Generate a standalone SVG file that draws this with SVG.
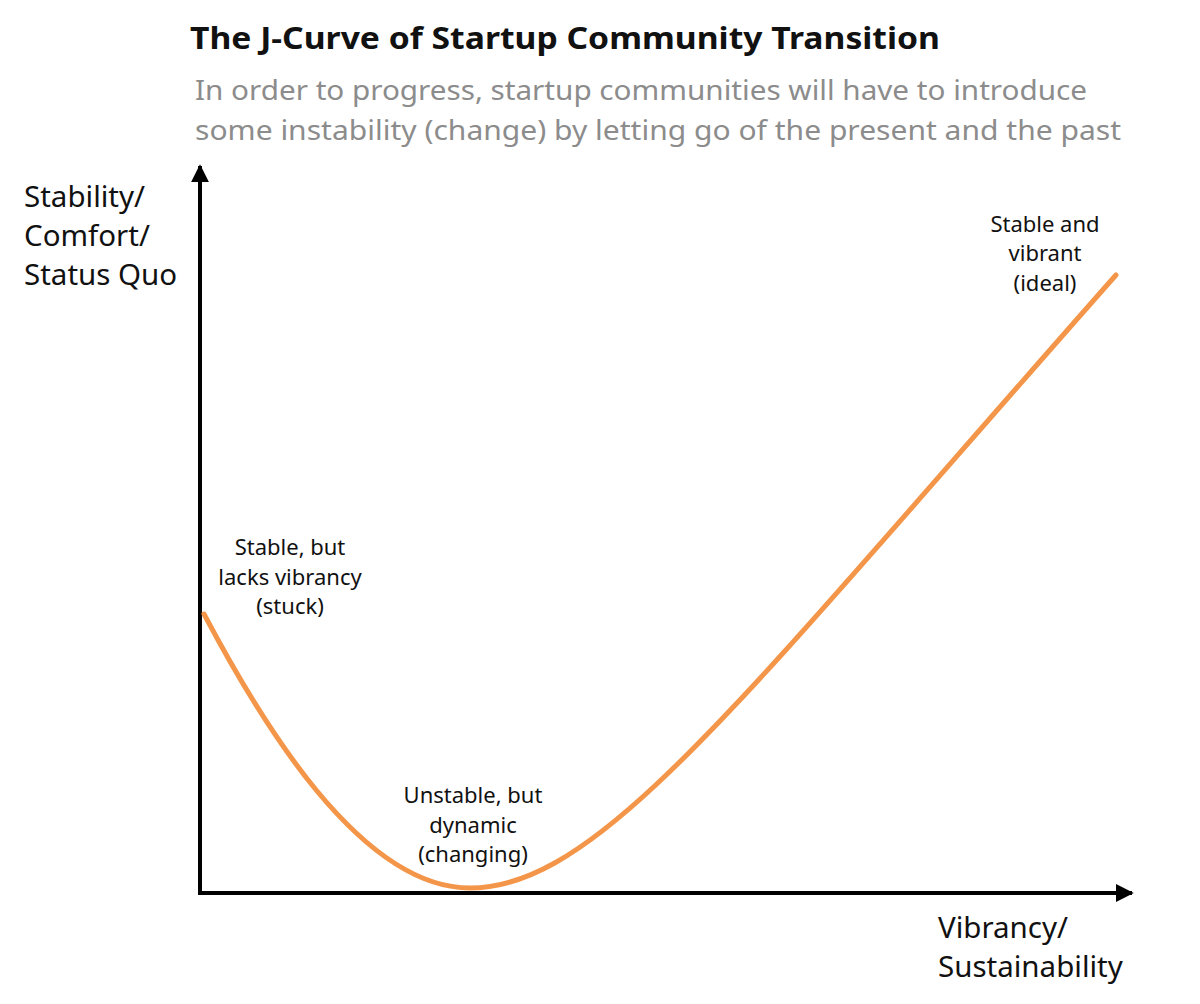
<svg xmlns="http://www.w3.org/2000/svg" width="1200" height="1004" viewBox="0 0 1200 1004">
<defs>
<style>
text{font-family:"Noto Sans","Open Sans","Liberation Sans",sans-serif;fill:#111}
.title{font-size:30px;font-weight:bold}
.sub{font-size:28px;fill:#8c8c8c}
.axis{font-size:29.5px}
.lbl{font-size:22px;text-anchor:middle}
.ax{stroke:#000;stroke-width:4;fill:none}
</style>
<marker id="ah" viewBox="0 0 10 10" refX="9" refY="5" markerWidth="4.5" markerHeight="4.5" orient="auto" markerUnits="strokeWidth">
<path d="M0,0 L10,5 L0,10 z" fill="#000"/>
</marker>
</defs>
<rect width="1200" height="1004" fill="#fff"/>
<g id="header">
<text class="title" x="190" y="49" textLength="750" lengthAdjust="spacingAndGlyphs">The J-Curve of Startup Community Transition</text>
<text class="sub" x="195" y="100" textLength="892" lengthAdjust="spacingAndGlyphs">In order to progress, startup communities will have to introduce</text>
<text class="sub" x="195" y="140" textLength="926" lengthAdjust="spacingAndGlyphs">some instability (change) by letting go of the present and the past</text>
</g>
<g id="connectors">
<line class="ax" x1="200" y1="893" x2="200" y2="166" marker-end="url(#ah)"/>
<line class="ax" x1="198" y1="893" x2="1132" y2="893" marker-end="url(#ah)"/>
<path id="curve" d="M204,614 C260,720 360,888 470,888 C600,888 740,700 1116,275" fill="none" stroke="#F4964A" stroke-width="5" stroke-linecap="round"/>
</g>
<g id="y-axis-label">
<text class="axis" x="24" y="207">Stability/</text>
<text class="axis" x="24" y="246">Comfort/</text>
<text class="axis" x="24" y="285">Status Quo</text>
</g>
<g id="x-axis-label">
<text class="axis" x="938" y="938">Vibrancy/</text>
<text class="axis" x="938" y="977">Sustainability</text>
</g>
<g id="stuck">
<text class="lbl" x="290" y="555">Stable, but</text>
<text class="lbl" x="290" y="585">lacks vibrancy</text>
<text class="lbl" x="290" y="614">(stuck)</text>
</g>
<g id="changing">
<text class="lbl" x="473" y="803">Unstable, but</text>
<text class="lbl" x="473" y="833">dynamic</text>
<text class="lbl" x="473" y="862">(changing)</text>
</g>
<g id="ideal">
<text class="lbl" x="1045" y="232">Stable and</text>
<text class="lbl" x="1045" y="261">vibrant</text>
<text class="lbl" x="1045" y="291">(ideal)</text>
</g>
</svg>
